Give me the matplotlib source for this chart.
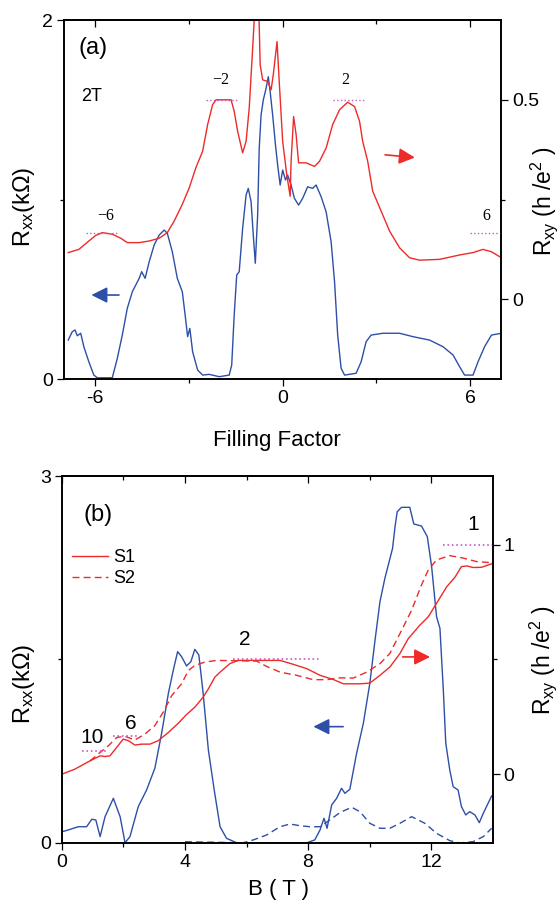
import numpy as np
import matplotlib.pyplot as plt

plt.rcParams['font.family'] = ['Liberation Sans', 'DejaVu Sans']
plt.rcParams['mathtext.default'] = 'regular'
plt.rcParams['axes.unicode_minus'] = False

RED = '#ee2a2a'
BLUE = '#2d4fa6'
PLATEAU = '#c45cc4'

# (a) sweep of filling factor at B = 2 T
nu_xx = [-6.86, -6.73, -6.64, -6.57, -6.46, -6.36, -6.20, -6.04, -5.93, -5.45,
         -5.29, -5.13, -4.97, -4.81, -4.59, -4.51, -4.40, -4.27, -4.11, -3.95,
         -3.79, -3.69, -3.53, -3.37, -3.21, -3.12, -3.04, -2.97, -2.88, -2.72,
         -2.56, -2.35, -2.03, -1.71, -1.63, -1.55, -1.47, -1.39, -1.28, -1.17,
         -1.10, -1.01, -0.94, -0.875, -0.80, -0.75, -0.69, -0.62, -0.53, -0.46,
         -0.40, -0.32, -0.23, -0.16, -0.08, 0.0, 0.09, 0.16, 0.27, 0.375,
         0.51, 0.64, 0.80, 0.96, 1.07, 1.23, 1.39, 1.55, 1.66, 1.76,
         1.87, 1.98, 2.35, 2.51, 2.67, 2.83, 3.21, 3.74, 4.17, 4.70,
         5.13, 5.45, 5.66, 5.82, 6.09, 6.25, 6.46, 6.68, 7.0]
rxx_a = [0.217, 0.264, 0.273, 0.241, 0.255, 0.180, 0.096, 0.022, 0.007, 0.007,
         0.115, 0.245, 0.394, 0.486, 0.561, 0.598, 0.561, 0.653, 0.747, 0.802,
         0.830, 0.812, 0.709, 0.561, 0.486, 0.357, 0.236, 0.282, 0.152, 0.050,
         0.022, 0.026, 0.013, 0.022, 0.078, 0.357, 0.579, 0.598, 0.840, 1.025,
         1.062, 0.988, 0.802, 0.645, 0.914, 1.285, 1.471, 1.554, 1.620, 1.684,
         1.601, 1.471, 1.304, 1.192, 1.081, 1.164, 1.109, 1.136, 1.081, 1.007,
         0.969, 1.007, 1.071, 1.062, 1.081, 1.016, 0.932, 0.765, 0.542, 0.245,
         0.060, 0.022, 0.032, 0.096, 0.208, 0.245, 0.255, 0.255, 0.236, 0.217,
         0.180, 0.134, 0.069, 0.022, 0.022, 0.096, 0.180, 0.245, 0.255]

nu_xy = [-6.86, -6.52, -6.20, -5.98, -5.77, -5.45, -5.18, -4.97, -4.59, -4.27,
         -3.95, -3.69, -3.47, -3.21, -2.99, -2.78, -2.56, -2.40, -2.24, -2.13,
         -1.65, -1.55, -1.44, -1.28, -1.17, -1.07, -0.96, -0.875, -0.77, -0.72,
         -0.64, -0.48, -0.37, -0.30, -0.18, -0.11, 0.0, 0.13, 0.24, 0.27,
         0.35, 0.43, 0.51, 0.75, 1.02, 1.18, 1.39, 1.60, 1.82, 2.08,
         2.30, 2.46, 2.56, 2.72, 2.88, 3.15, 3.42, 3.74, 4.06, 4.38,
         5.02, 5.66, 6.09, 6.41, 6.68, 7.0]
rxy_a = [0.117, 0.125, 0.146, 0.160, 0.167, 0.163, 0.153, 0.142, 0.142, 0.146,
         0.153, 0.167, 0.196, 0.238, 0.279, 0.329, 0.371, 0.438, 0.488, 0.500,
         0.500, 0.471, 0.421, 0.367, 0.396, 0.479, 0.629, 0.75, 0.75, 0.588,
         0.550, 0.546, 0.525, 0.563, 0.646, 0.546, 0.396, 0.313, 0.258, 0.346,
         0.458, 0.413, 0.342, 0.342, 0.333, 0.346, 0.379, 0.438, 0.475, 0.494,
         0.483, 0.446, 0.396, 0.346, 0.271, 0.221, 0.171, 0.129, 0.104, 0.098,
         0.100, 0.111, 0.117, 0.125, 0.119, 0.104]

plateau_a_level = [1 / 6, 1 / 2, 1 / 2, 1 / 6]
plateau_a_span = [(-6.3, -5.3), (-2.45, -1.45), (1.6, 2.65), (6.0, 7.0)]
plateau_a_text = ['\u22126', '\u22122', '2', '6']
plateau_a_textpos = [(-5.66, 0.208), (-1.97, 0.55), (2.0, 0.55), (6.52, 0.208)]

# (b) field sweeps for samples S1 and S2
b_s1 = [0.0, 0.42, 0.855, 1.24, 1.40, 1.56, 1.78, 1.99, 2.16, 2.37,
        2.59, 2.86, 3.13, 3.46, 3.78, 4.05, 4.32, 4.59, 4.76, 4.97,
        5.14, 5.46, 5.73, 7.09, 7.52, 7.96, 8.39, 8.82, 9.15, 9.36,
        9.69, 10.01, 10.34, 10.66, 10.99, 11.26, 11.64, 11.91, 12.18, 12.51,
        12.78, 12.99, 13.16, 13.37, 13.64, 13.97]
rxy_s1 = [0.0, 0.022, 0.054, 0.080, 0.077, 0.080, 0.117, 0.153, 0.146, 0.127,
          0.131, 0.131, 0.146, 0.182, 0.222, 0.260, 0.292, 0.336, 0.372, 0.423,
          0.445, 0.482, 0.496, 0.496, 0.479, 0.460, 0.431, 0.413, 0.394, 0.394,
          0.394, 0.397, 0.431, 0.467, 0.526, 0.591, 0.650, 0.686, 0.745, 0.817,
          0.859, 0.905, 0.908, 0.901, 0.902, 0.917]

b_s2 = [0.91, 1.18, 1.51, 1.78, 2.05, 2.37, 2.70, 3.02, 3.29, 3.57,
        3.89, 4.11, 4.32, 4.65, 5.03, 6.33, 6.65, 7.09, 7.63, 8.17,
        8.61, 9.04, 9.47, 9.91, 10.34, 10.66, 10.99, 11.37, 11.69, 11.91,
        12.18, 12.61, 13.05, 13.48, 13.97]
rxy_s2 = [0.058, 0.088, 0.124, 0.160, 0.165, 0.149, 0.175, 0.212, 0.270, 0.343,
          0.394, 0.452, 0.474, 0.489, 0.496, 0.493, 0.470, 0.445, 0.431, 0.412,
          0.412, 0.420, 0.419, 0.445, 0.482, 0.526, 0.613, 0.715, 0.825, 0.890,
          0.934, 0.953, 0.942, 0.927, 0.922]

b_xx1 = [0.0, 0.20, 0.37, 0.53, 0.80, 0.97, 1.10, 1.24, 1.40, 1.67,
         1.89, 2.05, 2.21, 2.48, 2.75, 3.02, 3.24, 3.46, 3.62, 3.76,
         3.89, 4.05, 4.19, 4.32, 4.45, 4.59, 4.76, 4.95, 5.14, 5.35,
         5.68, 7.96, 8.22, 8.39, 8.52, 8.62, 8.77, 8.93, 9.09, 9.20,
         9.36, 9.58, 9.80, 10.01, 10.18, 10.34, 10.50, 10.75, 10.83, 10.90,
         11.04, 11.31, 11.44, 11.69, 11.88, 12.02, 12.18, 12.29, 12.40, 12.48,
         12.61, 12.72, 12.88, 12.99, 13.13, 13.26, 13.43, 13.57, 13.70, 13.97]
rxx_s1 = [0.092, 0.106, 0.120, 0.133, 0.133, 0.194, 0.188, 0.052, 0.215, 0.365,
          0.215, 0.002, 0.052, 0.297, 0.433, 0.611, 0.897, 1.224, 1.414, 1.564,
          1.523, 1.447, 1.482, 1.583, 1.537, 1.224, 0.760, 0.433, 0.133, 0.038,
          0.002, 0.002, 0.025, 0.106, 0.202, 0.120, 0.311, 0.365, 0.447, 0.406,
          0.439, 0.733, 0.979, 1.305, 1.659, 1.973, 2.164, 2.409, 2.586, 2.708,
          2.744, 2.744, 2.608, 2.591, 2.504, 2.259, 1.850, 1.755, 1.251, 0.815,
          0.597, 0.460, 0.433, 0.297, 0.229, 0.256, 0.229, 0.166, 0.243, 0.384]

b_xx2 = [4.0, 5.89, 6.22, 6.65, 7.09, 7.41, 7.74, 8.06, 8.39, 8.71,
         9.04, 9.42, 9.69, 10.01, 10.34, 10.66, 10.99, 11.37, 11.80, 12.18,
         12.61, 12.94, 13.37, 13.70, 13.97]
rxx_s2 = [0.01, 0.002, 0.025, 0.065, 0.133, 0.155, 0.141, 0.133, 0.133, 0.188,
          0.249, 0.292, 0.256, 0.161, 0.120, 0.120, 0.161, 0.215, 0.161, 0.079,
          0.019, 0.0, 0.011, 0.052, 0.120]

plateau_b_level = [1 / 10, 1 / 6, 1 / 2, 1.0]
plateau_b_span = [(0.64, 1.5), (1.67, 2.43), (5.57, 8.39), (12.4, 14.0)]
plateau_b_text = ['10', '6', '2', '1']
plateau_b_textpos = [(0.97, 0.16), (2.24, 0.223), (5.95, 0.588), (13.37, 1.088)]


def dress(ax, axr, xmajor, xminor, lmajor, lminor, rmajor, rminor, rlabels):
    ax.set_xticks(xmajor)
    ax.set_xticks(xminor, minor=True)
    ax.set_yticks(lmajor)
    ax.set_yticks(lminor, minor=True)
    axr.set_yticks(rmajor)
    axr.set_yticklabels(rlabels)
    axr.set_yticks(rminor, minor=True)
    for a in (ax, axr):
        a.tick_params(which='both', direction='out', width=0.9, labelsize=14, pad=3)
        a.tick_params(which='major', length=5)
        a.tick_params(which='minor', length=3)
        for s in a.spines.values():
            s.set_linewidth(1.2)
    top = ax.secondary_xaxis('top')
    top.set_xticks(xmajor)
    top.set_xticks(xminor, minor=True)
    top.tick_params(which='both', direction='in', width=0.9, labeltop=False)
    top.tick_params(which='major', length=5)
    top.tick_params(which='minor', length=3)
    top.spines['top'].set_linewidth(1.2)


def arrow(ax, tail, head, color):
    ax.annotate('', xy=head, xytext=tail, xycoords='axes fraction',
                arrowprops=dict(arrowstyle='-|>,head_length=0.6,head_width=0.3',
                                color=color, lw=1.2, mutation_scale=16,
                                shrinkA=0, shrinkB=0))


fig = plt.figure(figsize=(5.6, 9.14), dpi=100)

# ---- panel (a)
ax1 = fig.add_axes([0.114, 0.5853, 0.7815, 0.3928])
ax1r = ax1.twinx()
ax1.plot(nu_xx, rxx_a, color=BLUE, lw=1.0)
ax1r.plot(nu_xy, rxy_a, color=RED, lw=1.0)
for lvl, (x0, x1), txt, (tx, ty) in zip(plateau_a_level, plateau_a_span,
                                         plateau_a_text, plateau_a_textpos):
    ax1r.plot([x0, x1], [lvl, lvl], ls=':', color=PLATEAU, lw=1.0)
    ax1r.text(tx, ty, txt, ha='center', va='center', fontsize=11.5,
              family=['Liberation Serif'])
ax1.set_xlim(-7, 7)
ax1.set_ylim(0, 2)
ax1r.set_ylim(-0.2, 0.7)
dress(ax1, ax1r, [-6, 0, 6], [-3, 3], [0, 2], [1], [0, 0.5], [0.25], ['0', '0.5'])
ax1.set_xlabel('Filling Factor', fontsize=16)
ax1.xaxis.set_label_coords(0.486, -0.142)
ax1.set_ylabel('$R_{xx}$(k\u03a9)', fontsize=17)
ax1.yaxis.set_label_coords(-0.062, 0.479)
ax1r.set_ylabel('$R_{xy}$ (h /e$^2$ )', fontsize=16.5)
ax1r.yaxis.set_label_coords(1.062, 0.496)
ax1.text(0.066, 0.922, '(a)', transform=ax1.transAxes, ha='center', va='center',
         fontsize=17)
ax1.text(0.063, 0.786, '2T', transform=ax1.transAxes, ha='center', va='center',
         fontsize=13)
arrow(ax1, (0.126, 0.234), (0.063, 0.234), BLUE)
arrow(ax1r, (0.734, 0.6245), (0.802, 0.617), RED)

# ---- panel (b)
ax2 = fig.add_axes([0.1107, 0.0777, 0.7688, 0.4015])
ax2r = ax2.twinx()
ax2.plot(b_xx1, rxx_s1, color=BLUE, lw=1.0)
ax2.plot(b_xx2, rxx_s2, color=BLUE, lw=1.0, dashes=(5, 3))
s1, = ax2r.plot(b_s1, rxy_s1, color=RED, lw=1.0, label='S1')
s2, = ax2r.plot(b_s2, rxy_s2, color=RED, lw=1.0, dashes=(5, 3), label='S2')
for lvl, (x0, x1), txt, (tx, ty) in zip(plateau_b_level, plateau_b_span,
                                         plateau_b_text, plateau_b_textpos):
    ax2r.plot([x0, x1], [lvl, lvl], ls=':', color=PLATEAU, lw=1.2)
    ax2r.text(tx, ty, txt, ha='center', va='center', fontsize=15)
ax2.set_xlim(0, 14)
ax2.set_ylim(0, 3)
ax2r.set_ylim(-0.3, 1.3)
dress(ax2, ax2r, [0, 4, 8, 12], [2, 6, 10], [0, 3], [1.5], [0, 1], [0.5], ['0', '1'])
ax2.set_xlabel('B ( T )', fontsize=16)
ax2.xaxis.set_label_coords(0.502, -0.098)
ax2.set_ylabel('$R_{xx}$(k\u03a9)', fontsize=17)
ax2.yaxis.set_label_coords(-0.058, 0.433)
ax2r.set_ylabel('$R_{xy}$ (h /e$^2$ )', fontsize=16.5)
ax2r.yaxis.set_label_coords(1.08, 0.499)
ax2.text(0.084, 0.894, '(b)', transform=ax2.transAxes, ha='center', va='center',
         fontsize=17)
ax2r.legend(handles=[s1, s2], loc='upper left', bbox_to_anchor=(0.0225, 0.80),
            frameon=False, fontsize=13, handlelength=2.0, handletextpad=0.3,
            labelspacing=0.2, borderpad=0, borderaxespad=0)
arrow(ax2, (0.653, 0.317), (0.584, 0.317), BLUE)
arrow(ax2r, (0.791, 0.507), (0.855, 0.507), RED)

fig.savefig('out.png', dpi=100)
